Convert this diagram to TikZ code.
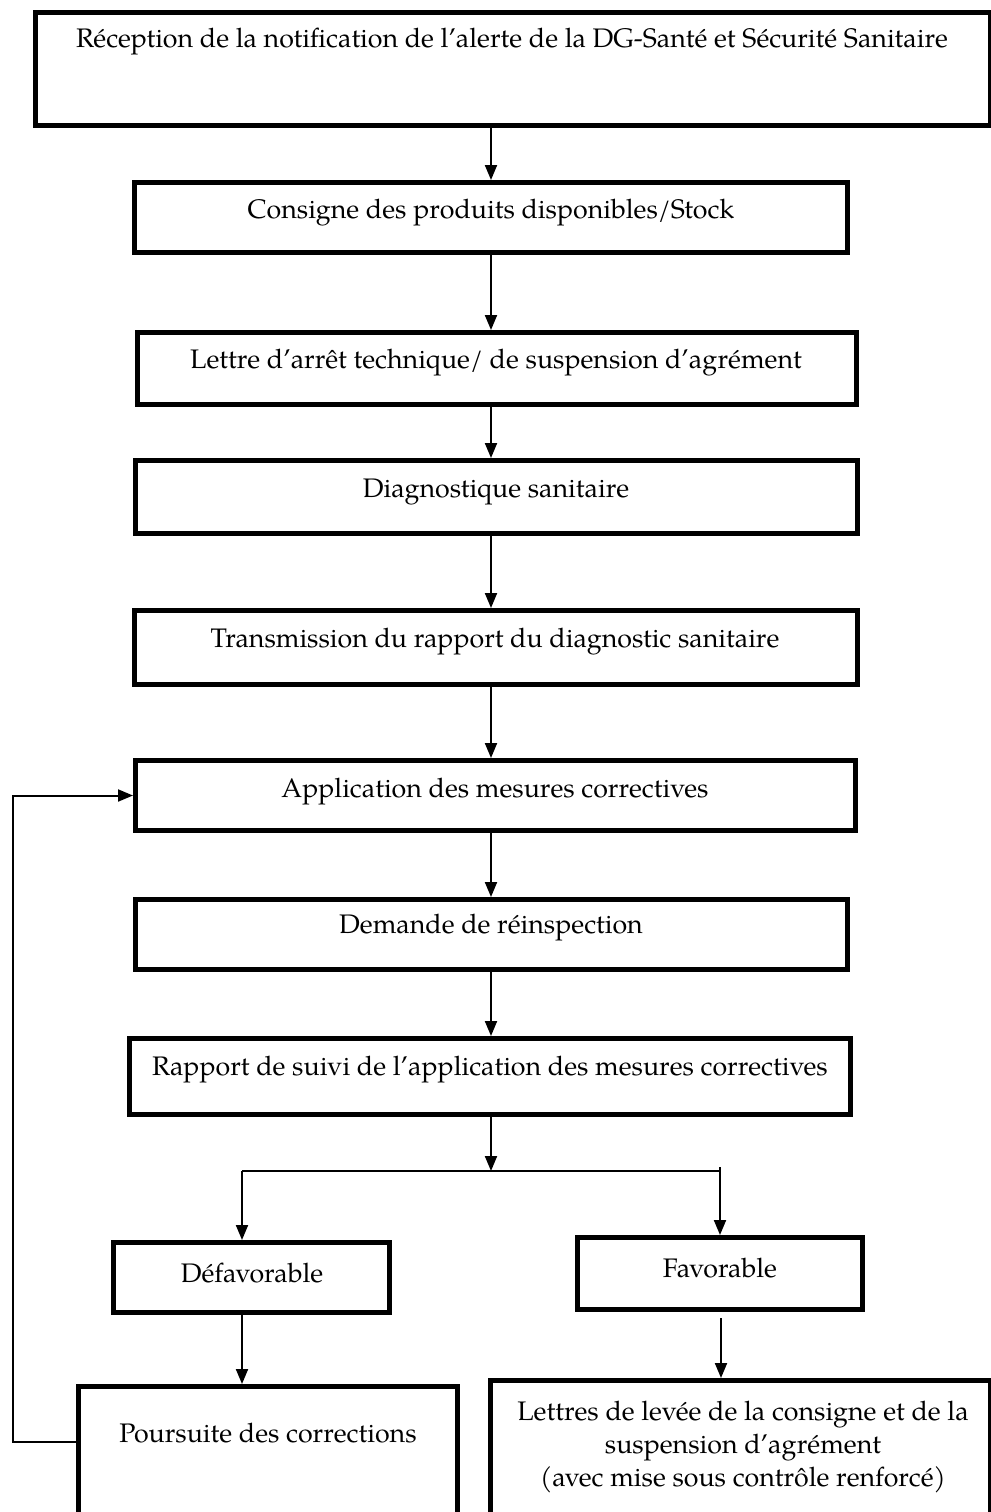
\documentclass[tikz,border=0pt]{standalone}
\usepackage{fontspec}
\setmainfont{TeX Gyre Pagella}
\usetikzlibrary{arrows.meta,fit}
\begin{document}
\begin{tikzpicture}[x=0.5pt,y=-0.5pt,
  box/.style={draw, line width=2.5pt, inner sep=0pt},
  lbl/.style={font=\fontsize{13.4}{16.3}\selectfont, inner sep=0pt, align=center},
  flow/.style={line width=1pt, -{Triangle[length=7.5pt,width=6pt]}},
  link/.style={line width=1pt}]
\useasboundingbox (0,0) rectangle (991,1512);

% boxes
\node[box, fit={(35.5,12.5) (990.5,125.5)}]    (b1) {};
\node[box, fit={(134.5,182.5) (847.5,252.5)}]  (b2) {};
\node[box, fit={(137.5,332.5) (856.5,404.5)}]  (b3) {};
\node[box, fit={(135.5,460.5) (857.5,533.5)}]  (b4) {};
\node[box, fit={(134.5,610.5) (857.5,684.5)}]  (b5) {};
\node[box, fit={(135.5,760.5) (855.5,830.5)}]  (b6) {};
\node[box, fit={(135.5,899.5) (847.5,969.5)}]  (b7) {};
\node[box, fit={(129.5,1038.5) (850.5,1114.5)}] (b8) {};
\node[box, fit={(113.5,1242.5) (389.5,1312.5)}] (b9) {};
\node[box, fit={(577.5,1237.5) (862.5,1309.5)}] (b10) {};
\node[box, fit={(78.5,1386.5) (457.5,1522)}]   (b11) {};
\node[box, fit={(490.5,1380.5) (990.5,1522)}]  (b12) {};

% labels
\node[lbl] (t1) at (512,42) {Réception de la notification de l’alerte de la DG-Santé et Sécurité Sanitaire};
\node[lbl] (t2) at (491,213) {Consigne des produits disponibles/Stock};
\node[lbl] (t3) at (496,363) {Lettre d’arrêt technique/ de suspension d’agrément};
\node[lbl] (t4) at (496,492) {Diagnostique sanitaire};
\node[lbl] (t5) at (495,642) {Transmission du rapport du diagnostic sanitaire};
\node[lbl] (t6) at (495,792) {Application des mesures correctives};
\node[lbl] (t7) at (491,928) {Demande de réinspection};
\node[lbl] (t8) at (490,1070) {Rapport de suivi de l’application des mesures correctives};
\node[lbl] (t9) at (252,1273) {Défavorable};
\node[lbl] (t10) at (720,1268) {Favorable};
\node[lbl] (t11) at (268,1433) {Poursuite des corrections};
\node[lbl] (t12) at (743,1447) {Lettres de levée de la consigne et de la\\suspension d’agrément\\(avec mise sous contrôle renforcé)};

% main trunk
\coordinate (tx) at (491,0);
\draw[flow] (b1.south -| tx) -- (b2.north -| tx);
\draw[flow] (b2.south -| tx) -- (b3.north -| tx);
\draw[flow] (b3.south -| tx) -- (b4.north -| tx);
\draw[flow] (b4.south -| tx) -- (b5.north -| tx);
\draw[flow] (b5.south -| tx) -- (b6.north -| tx);
\draw[flow] (b6.south -| tx) -- (b7.north -| tx);
\draw[flow] (b7.south -| tx) -- (b8.north -| tx);

% split into the two outcomes
\coordinate (split) at (491,1171);
\coordinate (sl) at (242,1171);
\coordinate (sr) at (720,1171);
\coordinate (srtop) at (720,1167);
\draw[flow] (b8.south -| tx) -- (split);
\draw[link] (sl) -- (sr);
\draw[flow] (sl) -- (b9.north -| sl);
\draw[flow] (srtop) -- (b10.north -| sr);
\draw[flow] (b9.south -| sl) -- (b11.north -| sl);
\coordinate (fv) at (721,1318);
\draw[flow] (fv) -- (b12.north -| fv);

% loop back to the corrective measures
\coordinate (fb) at (13,0);
\coordinate (fy) at (0,1442);
\draw[flow] (b11.west |- fy) -- (fb |- fy) -- (fb |- b6.west) -- (b6.west);
\end{tikzpicture}
\end{document}
